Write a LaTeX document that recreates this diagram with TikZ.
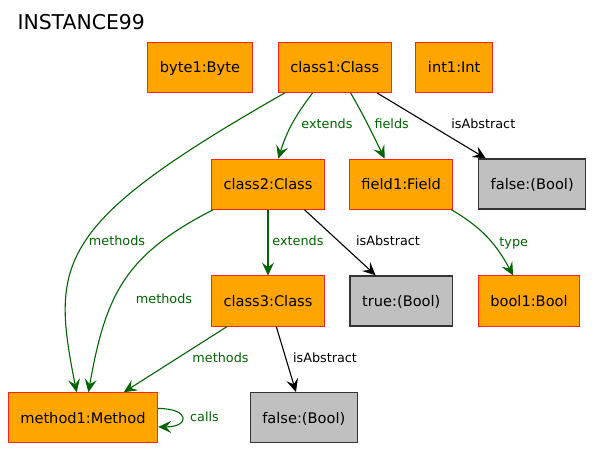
\documentclass[tikz,border=0pt]{standalone}
\usepackage{fontspec}
\setmainfont{DejaVu Sans}
\usetikzlibrary{arrows.meta,positioning}
\definecolor{boxorange}{HTML}{FFA500}
\definecolor{boxred}{HTML}{FF2020}
\definecolor{boolgray}{HTML}{C0C0C0}
\definecolor{boolline}{HTML}{333333}
\definecolor{reflink}{HTML}{006400}

\begin{document}
\begin{tikzpicture}[x=1pt,y=1pt,
	obj/.style={draw=boxred,fill=boxorange,line width=1pt,minimum height=50pt,inner xsep=12pt,inner ysep=0pt,
		font=\fontsize{14.6}{16}\selectfont,text height=10.6pt,text depth=0pt},
	val/.style={obj,draw=boolline,fill=boolgray,line width=1.4pt},
	ref/.style={color=reflink,line width=1.1pt,-{Stealth[length=13pt,width=12pt,inset=5pt]}},
	attr/.style={ref,color=black},
	reflbl/.style={text=reflink,font=\fontsize{12.8}{14}\selectfont,inner sep=0pt,text height=9.3pt,text depth=0pt},
	attrlbl/.style={reflbl,text=black}]
	\fill[white] (0,0) rectangle (592,-449);
	\useasboundingbox (0,0) rectangle (592,-449);

	\node[anchor=west,inner sep=0pt,font=\fontsize{20.4}{24}\selectfont] (title) at (17.3,-22.5) {INSTANCE99};

	% objects
	\node[obj] (byte1) at (200,-67.5) {byte1:Byte};
	\node[obj] (class1) at (334.7,-67.5) {class1:Class};
	\node[obj] (int1) at (454.2,-67.5) {int1:Int};
	\node[obj] (class2) at (268,-184.2) {class2:Class};
	\node[obj] (field1) at (401.2,-184.2) {field1:Field};
	\node[val] (false1) at (532.2,-184.2) {false:(Bool)};
	\node[obj] (class3) at (268,-301) {class3:Class};
	\node[val] (true1) at (401.3,-301) {true:(Bool)};
	\node[obj] (bool1) at (529,-301) {bool1:Bool};
	\node[obj] (method1) at (83,-417.7) {method1:Method};
	\node[val] (false2) at (303.8,-417.7) {false:(Bool)};

	% links
	\path [ref]
	(class1.229) edge[out=233,in=73] (class2.68)
	(class1.-58) edge[out=-60,in=116] (field1.123)
	(class2) edge (class3)
	(field1.-27) edge[out=-30,in=118] (bool1.122)
	(class2.205) edge[out=207,in=80,looseness=1.15] (method1.78)
	(class3.212) edge (method1.32);
	\draw[ref] (class1.207) .. controls +(-230,-131) and +(-26,130) .. (method1.104);
	\draw[ref] (method1.7) .. controls +(32,0) and +(32,0) .. (method1.-7);

	\path [attr]
	(class1.-31) edge (false1.151)
	(class2.-35) edge (true1.135)
	(class3.-72) edge (false2.107);

	% labels
	\node[reflbl] (lext1) at (327,-124.3) {extends};
	\node[reflbl] (lfld) at (391.7,-124.3) {fields};
	\node[attrlbl] (labs1) at (483.3,-124.3) {isAbstract};
	\node[reflbl] (lmeth1) at (117,-241) {methods};
	\node[reflbl] (lext2) at (298,-241) {extends};
	\node[attrlbl] (labs2) at (388,-241) {isAbstract};
	\node[reflbl] (ltype) at (513.7,-241.7) {type};
	\node[reflbl] (lmeth2) at (164,-299.3) {methods};
	\node[reflbl] (lmeth3) at (220.5,-358.3) {methods};
	\node[attrlbl] (labs3) at (325,-358.3) {isAbstract};
	\node[reflbl] (lcalls) at (204.5,-416.7) {calls};
\end{tikzpicture}
\end{document}
